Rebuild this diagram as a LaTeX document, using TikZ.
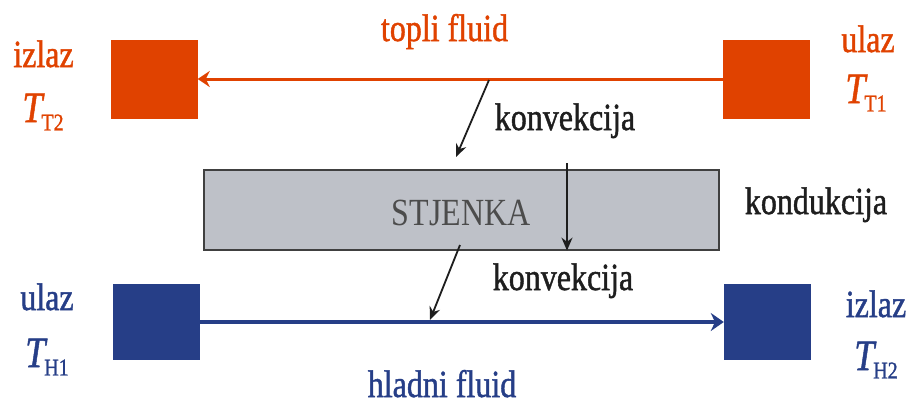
\documentclass[tikz,border=0pt]{standalone}
\usepackage{fontspec}
\setmainfont{Liberation Serif}
\newfontfamily\heavy{Liberation Serif}[FakeBold=1.3]
\usetikzlibrary{arrows.meta}
\definecolor{hot}{RGB}{224,66,0}
\definecolor{cold}{RGB}{38,62,135}
\definecolor{wallgray}{RGB}{190,193,200}
\definecolor{ink}{RGB}{30,30,30}
\newcommand{\tall}[1]{\scalebox{1}[1.2]{#1}}
\newcommand{\TempSub}[1]{\scalebox{1}[1.2]{{\fontsize{36}{36}\selectfont\itshape T}\kern-1pt\raisebox{-0.22em}{\fontsize{20}{20}\selectfont #1}}}
\begin{document}
\begin{tikzpicture}[x=1pt,y=-1pt,
  lbl/.style={font=\fontsize{32}{34}\selectfont\heavy, inner sep=0pt, anchor=base},
  hotbox/.style={fill=hot, minimum width=87pt, minimum height=79pt, inner sep=0pt},
  coldbox/.style={fill=cold, minimum width=87pt, minimum height=76pt, inner sep=0pt},
  blackarrow/.style={ink, line width=1.8pt, -{Stealth[length=13pt,width=11pt]}}]
\useasboundingbox (0,0) rectangle (914,405);
% boxes
\node[hotbox] (hL) at (154,79) {};
\node[hotbox] (hR) at (766.5,79) {};
\node[coldbox] (cL) at (156,322) {};
\node[coldbox] (cR) at (767.5,322) {};
\node[draw=ink!85, line width=1.2pt, fill=wallgray, minimum width=515pt, minimum height=80pt, inner sep=0pt] (wall) at (461.5,210) {};
% fluid lines
\draw[hot, line width=3pt, -{Stealth[length=12pt,width=16pt]}] (hR.west) -- (hL.east);
\draw[cold, line width=4.5pt, -{Stealth[length=13pt,width=18pt]}] (cL.east) -- (cR.west);
% heat transfer arrows
\coordinate (a1) at (489,80);
\coordinate (b1) at (456,157);
\coordinate (a2) at (567,163);
\coordinate (a3) at (460,245);
\coordinate (b3) at (430,320);
\draw[blackarrow] (a1) -- (b1);
\draw[blackarrow] (a2) -- (a2 |- wall.south);
\draw[blackarrow] (a3) -- (b3);
% labels
\node[lbl, hot] (tf) at (444.5,41) {\tall{topli fluid}};
\node[lbl, hot] (izL) at (43.5,67) {\tall{izlaz}};
\node[lbl, hot] (tt2) at (43,122) {\TempSub{T2}};
\node[lbl, hot] (ulR) at (868,52) {\tall{ulaz}};
\node[lbl, hot] (tt1) at (866,103) {\TempSub{T1}};
\node[lbl, cold] (ulL) at (47,310) {\tall{ulaz}};
\node[lbl, cold] (th1) at (47,367) {\TempSub{H1}};
\node[lbl, cold] (izR) at (876,317) {\tall{izlaz}};
\node[lbl, cold] (th2) at (876,370) {\TempSub{H2}};
\node[lbl, cold] (hf) at (442,397) {\tall{hladni fluid}};
\node[lbl, ink] (kv1) at (565,130) {\tall{konvekcija}};
\node[lbl, ink] (kd) at (816,214) {\tall{kondukcija}};
\node[lbl, ink] (kv2) at (563,290) {\tall{konvekcija}};
\node[lbl, black!70, font=\fontsize{32}{34}\selectfont] (st) at (461,225) {\tall{STJENKA}};
\end{tikzpicture}
\end{document}
